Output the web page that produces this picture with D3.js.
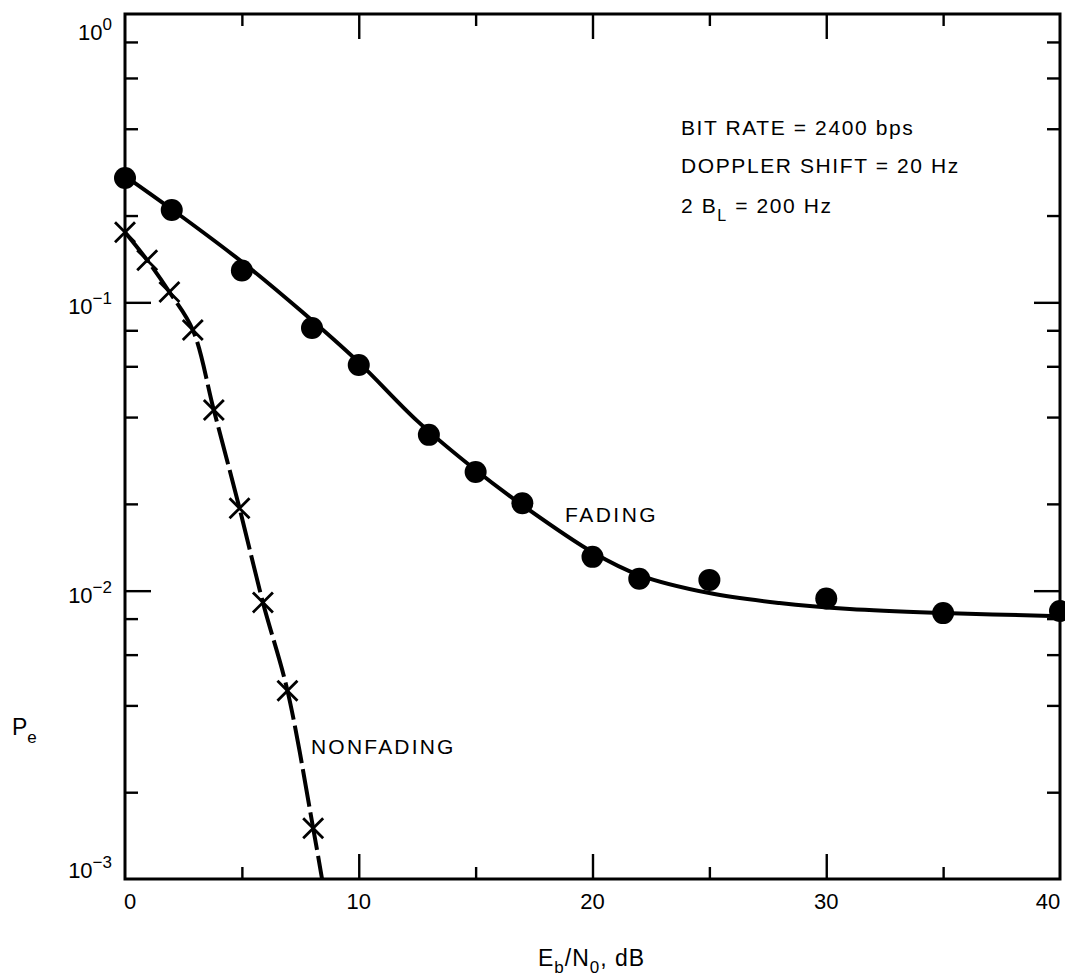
<!DOCTYPE html>
<html>
  <head>
    <meta charset="utf-8">
    <style>
    body { margin: 0; background: #fff; }
    text { font-family: "Liberation Sans", Arial, Helvetica, sans-serif; fill: #000; }
    </style>
  </head>
  <body>
    <script src="https://cdn.jsdelivr.net/npm/d3@7"></script>
    <script>
      // data
      var fadingX = [0, 2, 5, 8, 10, 13, 15, 17, 20, 22, 25, 30, 35, 40];
      var fadingPe = [0.27, 0.209, 0.129, 0.0815, 0.0606, 0.0347, 0.0258, 0.0201, 0.0131, 0.011, 0.0109, 0.0094, 0.00836, 0.0085];
      // fitted curve through the fading points
      var fadingCurveX = [0, 2, 5, 7.5, 10, 12.5, 15, 17, 20, 22, 25, 28, 31, 35, 40];
      var fadingCurvePe = [0.2742, 0.2103, 0.1382, 0.0938, 0.0619, 0.0388, 0.0262, 0.0198, 0.0136, 0.01133, 0.00981, 0.00906, 0.00863, 0.00836, 0.00816];
      var nonfadingX = [0, 0.95, 1.9, 2.9, 3.8, 4.9, 5.9, 6.95, 8.05];
      var nonfadingPe = [0.175, 0.14, 0.1086, 0.0802, 0.0423, 0.0193, 0.0091, 0.0045, 0.0015];
      var nonfadingEndX = 8.43, nonfadingEndPe = 0.001;
      var xMajor = [0, 10, 20, 30, 40];
      var xMinor = [5, 15, 25, 35];
      var yMajor = [1, 0.1, 0.01, 0.001];
      var yExp = ["0", "−1", "−2", "−3"];
      var yMinor = [0.8, 0.6, 0.4, 0.2, 0.08, 0.06, 0.04, 0.02, 0.008, 0.006, 0.004, 0.002];
      var notes = ["BIT RATE = 2400 bps", "DOPPLER SHIFT = 20 Hz"];

      var W = 1065, H = 976;
      var pL = 125, pR = 1060, pT = 14, pB = 879;

      var svg = d3.select("body").append("svg")
        .attr("width", W).attr("height", H);

      var x = d3.scaleLinear().domain([0, 40]).range([pL, pR]);
      var y = d3.scaleLog().domain([0.001, 1]).range([pB, pT]);

      // frame
      svg.append("rect")
        .attr("x", pL).attr("y", pT)
        .attr("width", pR - pL).attr("height", pB - pT)
        .attr("fill", "none").attr("stroke", "#000").attr("stroke-width", 3);

      // ticks (inward on all four sides)
      function ticks(axis, vals, size, tx) {
        var g = svg.append("g").attr("transform", tx)
          .call(axis.tickValues(vals).tickSize(size).tickFormat(""));
        g.select(".domain").remove();
        g.selectAll("line").attr("stroke", "#000").attr("stroke-width", 2.4);
      }
      ticks(d3.axisBottom(x), xMajor.slice(1, 4), -25, "translate(0," + pB + ")");
      ticks(d3.axisBottom(x), xMinor, -12, "translate(0," + pB + ")");
      ticks(d3.axisTop(x), xMajor.slice(1, 4), -25, "translate(0," + pT + ")");
      ticks(d3.axisTop(x), xMinor, -12, "translate(0," + pT + ")");
      ticks(d3.axisLeft(y), yMajor.slice(1, 3), -26, "translate(" + pL + ",0)");
      ticks(d3.axisLeft(y), yMinor, -13, "translate(" + pL + ",0)");
      ticks(d3.axisRight(y), yMajor.slice(1, 3), -26, "translate(" + pR + ",0)");
      ticks(d3.axisRight(y), yMinor, -13, "translate(" + pR + ",0)");

      // x tick labels
      svg.selectAll("text.xl").data(xMajor).enter().append("text")
        .attr("class", "xl")
        .attr("x", function(d) { return d == 40 ? x(d) - 12 : x(d) + (d == 0 ? 5 : 0); })
        .attr("y", 909)
        .attr("text-anchor", "middle")
        .attr("font-size", "22px")
        .text(function(d) { return d; });

      // y tick labels 10^n
      var yl = svg.selectAll("text.yl").data(yMajor).enter().append("text")
        .attr("class", "yl")
        .attr("x", 112)
        .attr("y", function(d) { return Math.min(Math.max(y(d) + 12, 40), 878); })
        .attr("text-anchor", "end")
        .attr("font-size", "22px");
      yl.append("tspan").text("10");
      yl.append("tspan")
        .attr("font-size", "17px").attr("dy", -10)
        .text(function(d, i) { return yExp[i]; });

      // fading curve
      var line = d3.line()
        .x(function(d) { return x(d[0]); })
        .y(function(d) { return y(d[1]); })
        .curve(d3.curveCatmullRom.alpha(0.5));

      svg.append("path")
        .datum(d3.zip(fadingCurveX, fadingCurvePe))
        .attr("d", line)
        .attr("fill", "none").attr("stroke", "#000").attr("stroke-width", 4);

      svg.selectAll("circle.fad").data(d3.zip(fadingX, fadingPe)).enter().append("circle")
        .attr("class", "fad")
        .attr("cx", function(d) { return x(d[0]); })
        .attr("cy", function(d) { return y(d[1]); })
        .attr("r", 11)
        .attr("fill", "#000");

      // nonfading curve (long dashes)
      var nf = d3.zip(nonfadingX, nonfadingPe);
      svg.append("path")
        .datum(nf.concat([[nonfadingEndX, nonfadingEndPe]]))
        .attr("d", line)
        .attr("fill", "none").attr("stroke", "#000").attr("stroke-width", 4)
        .attr("stroke-dasharray", "38,6");

      var s = 10;
      svg.selectAll("path.xm").data(nf).enter().append("path")
        .attr("class", "xm")
        .attr("d", function(d) {
          var cx = x(d[0]), cy = y(d[1]);
          return "M" + (cx - s) + "," + (cy - s) + "L" + (cx + s) + "," + (cy + s) +
                 "M" + (cx - s) + "," + (cy + s) + "L" + (cx + s) + "," + (cy - s);
        })
        .attr("stroke", "#000").attr("stroke-width", 2.8).attr("fill", "none");

      // curve labels
      svg.append("text").attr("x", 565).attr("y", 522)
        .attr("font-size", "21px").attr("letter-spacing", "2.5px").text("FADING");
      svg.append("text").attr("x", 311).attr("y", 754)
        .attr("font-size", "21px").attr("letter-spacing", "2.2px").text("NONFADING");

      // notes
      svg.selectAll("text.note").data(notes).enter().append("text")
        .attr("class", "note")
        .attr("x", 681)
        .attr("y", function(d, i) { return 135 + i * 38; })
        .attr("font-size", "21px").attr("letter-spacing", "1.6px")
        .text(function(d) { return d; });
      var n3 = svg.append("text").attr("x", 681).attr("y", 213)
        .attr("font-size", "21px").attr("letter-spacing", "1.6px");
      n3.append("tspan").text("2 B");
      n3.append("tspan").attr("font-size", "16px").attr("dy", 8).text("L");
      n3.append("tspan").attr("dy", -8).text(" = 200 Hz");

      // axis titles
      var xt = svg.append("text").attr("x", 538).attr("y", 966)
        .attr("font-size", "23px").attr("letter-spacing", "1px");
      xt.append("tspan").text("E");
      xt.append("tspan").attr("font-size", "17px").attr("dy", 7).text("b");
      xt.append("tspan").attr("dy", -7).text("/N");
      xt.append("tspan").attr("font-size", "17px").attr("dy", 7).text("0");
      xt.append("tspan").attr("dy", -7).text(", dB");

      var yt = svg.append("text").attr("x", 12).attr("y", 735).attr("font-size", "23px");
      yt.append("tspan").text("P");
      yt.append("tspan").attr("font-size", "17px").attr("dy", 8).text("e");
    </script>
  </body>
</html>
